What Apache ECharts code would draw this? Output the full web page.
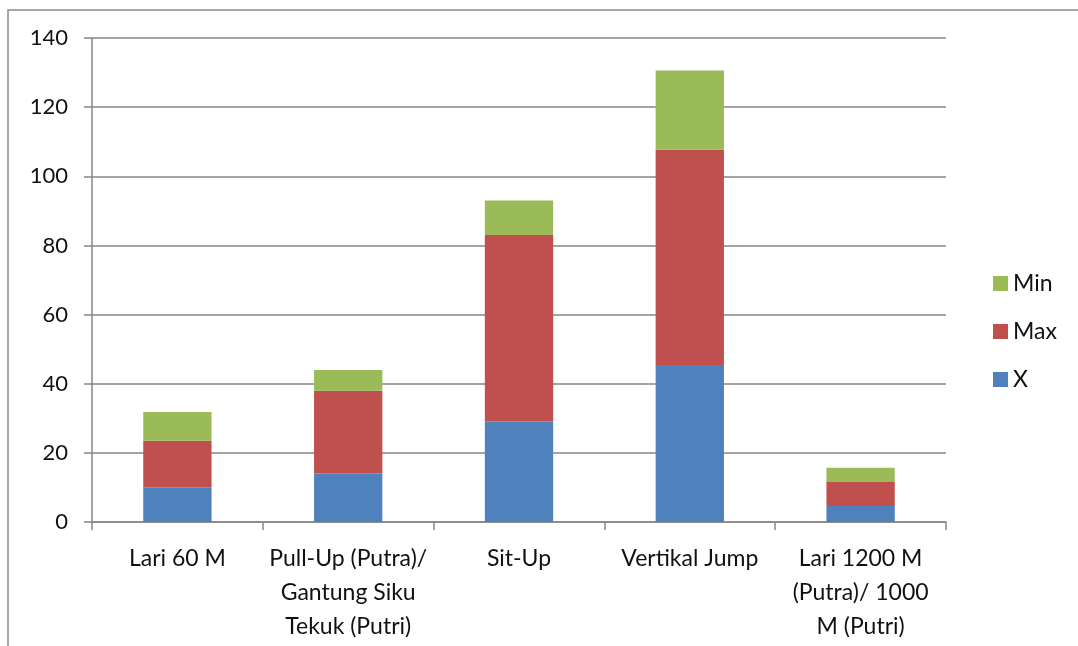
<!DOCTYPE html>
<html>
<head>
<meta charset="utf-8">
<script src="https://cdn.jsdelivr.net/npm/echarts@6/dist/echarts.min.js"></script>
<style>
  html, body { margin: 0; padding: 0; background: #fff; }
  #chart { width: 1078px; height: 646px; }
</style>
</head>
<body>
<div id="chart"></div>
<script>
const categories = [
  'Lari 60 M',
  'Pull-Up (Putra)/\nGantung Siku\nTekuk (Putri)',
  'Sit-Up',
  'Vertikal Jump',
  'Lari 1200 M\n(Putra)/ 1000\nM (Putri)'
];
const xValues = [10, 14, 29.1, 45.4, 4.6];
const maxValues = [13.5, 24, 53.9, 62.3, 7];
const minValues = [8.3, 6, 10, 22.9, 4.1];
const yTicks = [0, 20, 40, 60, 80, 100, 120, 140];

const font = 'Lato, "Open Sans", sans-serif';
const axisGray = '#868686';

const chart = echarts.init(document.getElementById('chart'));
chart.setOption({
  animation: false,
  textStyle: { fontFamily: font },
  graphic: [
    {
      type: 'rect',
      shape: { x: 8, y: 10, width: 1100, height: 700 },
      style: { fill: 'none', stroke: '#8c8c8c', lineWidth: 1.5 },
      silent: true
    }
  ],
  grid: { left: 92, right: 132, top: 38, bottom: 124 },
  legend: {
    orient: 'vertical',
    left: 988,
    top: 267,
    data: ['Min', 'Max', 'X'],
    itemWidth: 15,
    itemHeight: 15,
    itemGap: 25,
    icon: 'rect',
    textStyle: { fontSize: 23, color: '#111', fontFamily: font }
  },
  xAxis: {
    type: 'category',
    data: categories,
    axisLine: { lineStyle: { color: axisGray, width: 1.5 } },
    axisTick: { show: true, length: 8, lineStyle: { color: axisGray, width: 1.5 } },
    axisLabel: {
      color: '#111',
      fontSize: 23,
      lineHeight: 34,
      margin: 20,
      interval: 0,
      fontFamily: font
    }
  },
  yAxis: {
    type: 'value',
    min: 0,
    max: yTicks[yTicks.length - 1],
    interval: yTicks[1] - yTicks[0],
    axisLine: { show: true, lineStyle: { color: axisGray, width: 1.5 } },
    axisTick: { show: true, length: 8, lineStyle: { color: axisGray, width: 1.5 } },
    splitLine: { lineStyle: { color: axisGray, width: 1.5 } },
    axisLabel: { color: '#111', fontSize: 22, margin: 24, fontFamily: font }
  },
  series: [
    {
      name: 'X', type: 'bar', stack: 'all', data: xValues,
      barWidth: '40%', itemStyle: { color: '#4F81BD' }
    },
    {
      name: 'Max', type: 'bar', stack: 'all', data: maxValues,
      itemStyle: { color: '#C0504D' }
    },
    {
      name: 'Min', type: 'bar', stack: 'all', data: minValues,
      itemStyle: { color: '#9BBB59' }
    }
  ]
});
</script>
</body>
</html>
